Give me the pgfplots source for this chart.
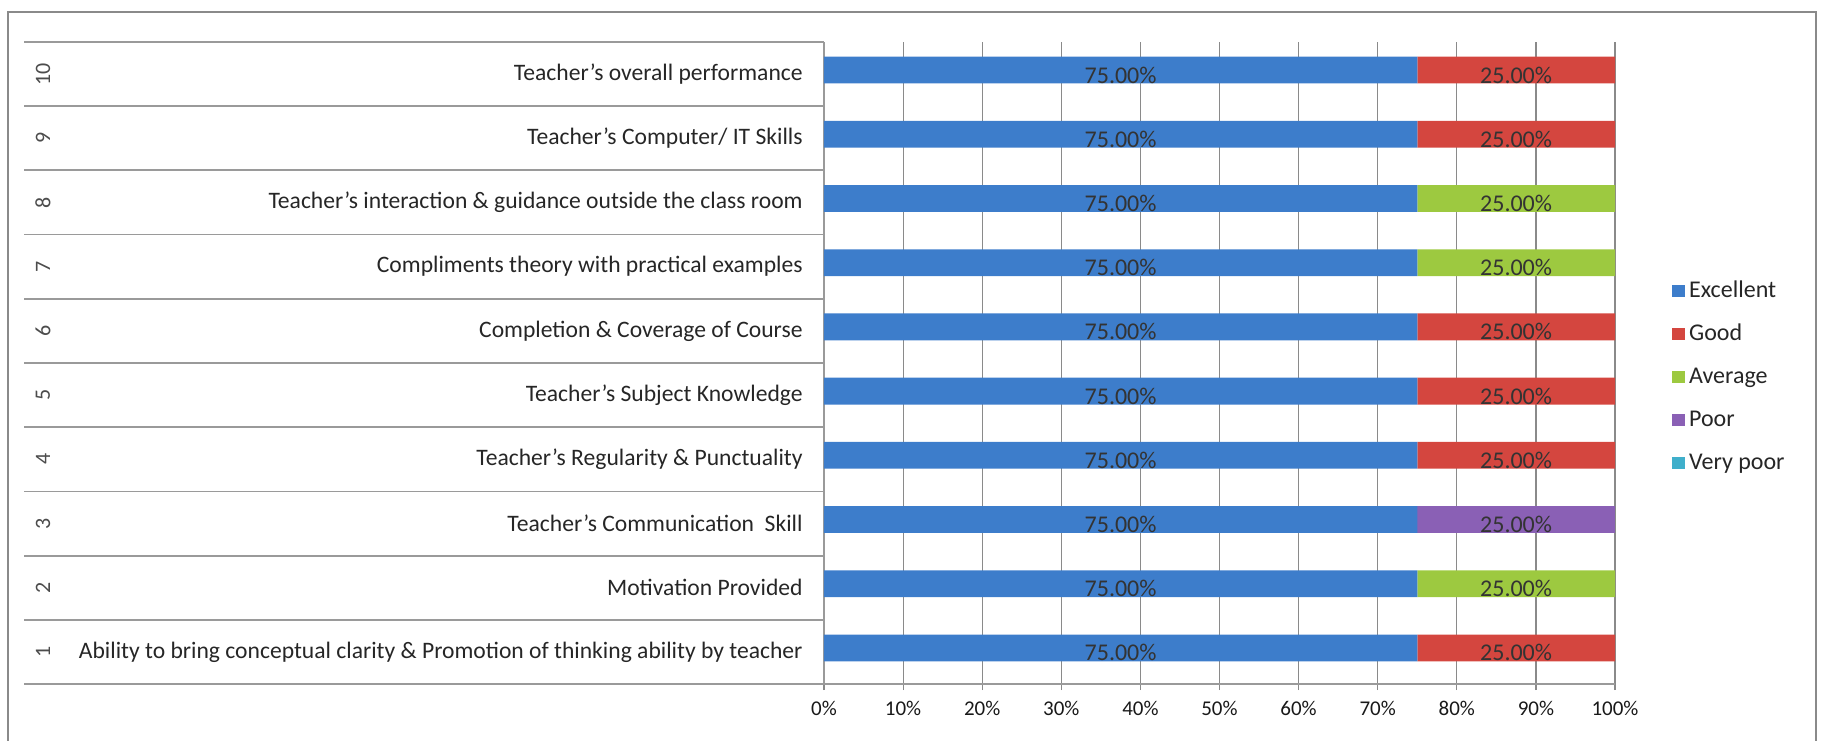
\documentclass[border=0pt]{standalone}
\usepackage{pgfplots}
\pgfplotsset{compat=1.18}
\usepackage{pgfplotstable}
\usepackage{fontspec}
\setmainfont{Carlito}
\definecolor{exc}{HTML}{3D7DCB}
\definecolor{good}{HTML}{D4463F}
\definecolor{avg}{HTML}{9DC940}
\definecolor{poor}{HTML}{8A60B5}
\definecolor{vpoor}{HTML}{3FAFCB}
\definecolor{gridgray}{HTML}{8A8A8A}
\definecolor{sepgray}{HTML}{9A9A9A}
\tikzset{barlabel/.style={anchor=center, yshift=-0.5pt,
    font=\fontsize{12}{14}\selectfont, text=black!80}}

\pgfplotstableread{
row Excellent Good Average Poor VeryPoor
1  75 25 0  0  0
2  75 0  25 0  0
3  75 0  0  25 0
4  75 25 0  0  0
5  75 25 0  0  0
6  75 25 0  0  0
7  75 0  25 0  0
8  75 0  25 0  0
9  75 25 0  0  0
10 75 25 0  0  0
}\ratings

\begin{document}
\begin{tikzpicture}
\begin{axis}[
  at={(412pt,28pt)}, anchor=south west,
  scale only axis, width=395.5pt, height=321pt,
  xbar stacked, bar width=13.4pt, bar shift=2pt,
  every axis plot post/.append style={
    draw=none,
    legend image code/.code={\fill[#1] (0pt,-3.2pt) rectangle (6.4pt,3.2pt);}},
  xmin=0, xmax=100, ymin=0.5, ymax=10.5,
  clip=false,
  /pgf/number format/assume math mode=true,
  xtick={0,10,...,100},
  xticklabel={\pgfmathprintnumber{\tick}\%},
  ytick={1,...,10},
  yticklabels={
    Ability to bring conceptual clarity \& Promotion of thinking ability by teacher,
    Motivation Provided,
    Teacher’s Communication\ \ Skill,
    Teacher’s Regularity \& Punctuality,
    Teacher’s Subject Knowledge,
    Completion \& Coverage of Course,
    Compliments theory with practical examples,
    Teacher’s interaction \& guidance outside the class room,
    Teacher’s Computer/ IT Skills,
    Teacher’s overall performance},
  yticklabel style={anchor=east, inner sep=0pt, xshift=-7.5pt,
    font=\fontsize{11.8}{13}\selectfont, text=black!85},
  xticklabel style={font=\fontsize{10.5}{12}\selectfont, text=black!90, yshift=-2pt},
  tick align=outside, major tick length=3pt,
  xtick style={draw=gridgray, line width=0.6pt},
  ytick style={draw=none},
  xmajorgrids, grid style={draw=gridgray, line width=0.6pt},
  axis x line*=bottom, axis y line*=left,
  axis line style={draw=sepgray, line width=0.8pt},
  point meta=explicit,
  nodes near coords={\pgfmathfloatifflags{\pgfplotspointmeta}{0}{}{\pgfmathprintnumber[fixed, fixed zerofill, precision=2]{\pgfplotspointmeta}\%}},
  every node near coord/.style={barlabel},
  legend style={at={(1.072,0.636)}, anchor=north west, draw=none, fill=none,
    inner sep=0pt, row sep=6.5pt,
    nodes={inner sep=2pt, text height=8.5pt, text depth=2.5pt,
      font=\fontsize{12}{14}\selectfont, text=black!85}},
  legend cell align=left,
]
\addplot[fill=exc]   table[x=Excellent, y=row, meta=Excellent]{\ratings};
\addplot[fill=good]  table[x=Good,      y=row, meta=Good]{\ratings};
\addplot[fill=avg]   table[x=Average,   y=row, meta=Average]{\ratings};
\addplot[fill=poor]  table[x=Poor,      y=row, meta=Poor]{\ratings};
\addplot[fill=vpoor] table[x=VeryPoor,  y=row, meta=VeryPoor]{\ratings};
\legend{Excellent, Good, Average, Poor, Very poor}
\pgfplotsinvokeforeach{0,...,10}{
  \draw[sepgray, line width=0.9pt] (axis cs:0,#1+0.5) -- ++(-400pt,0pt);
}
\pgfplotsinvokeforeach{1,...,10}{
  \node[rotate=90, font=\fontsize{11}{12}\selectfont, text=black!70]
    at ([xshift=-390.5pt]axis cs:0,#1) {#1};
}
\end{axis}
\draw[gridgray, line width=0.8pt] (4pt,-6pt) rectangle (908pt,364pt);
\pgfresetboundingbox
\path[use as bounding box] (0,0) rectangle (913pt,370pt);
\end{tikzpicture}
\end{document}
